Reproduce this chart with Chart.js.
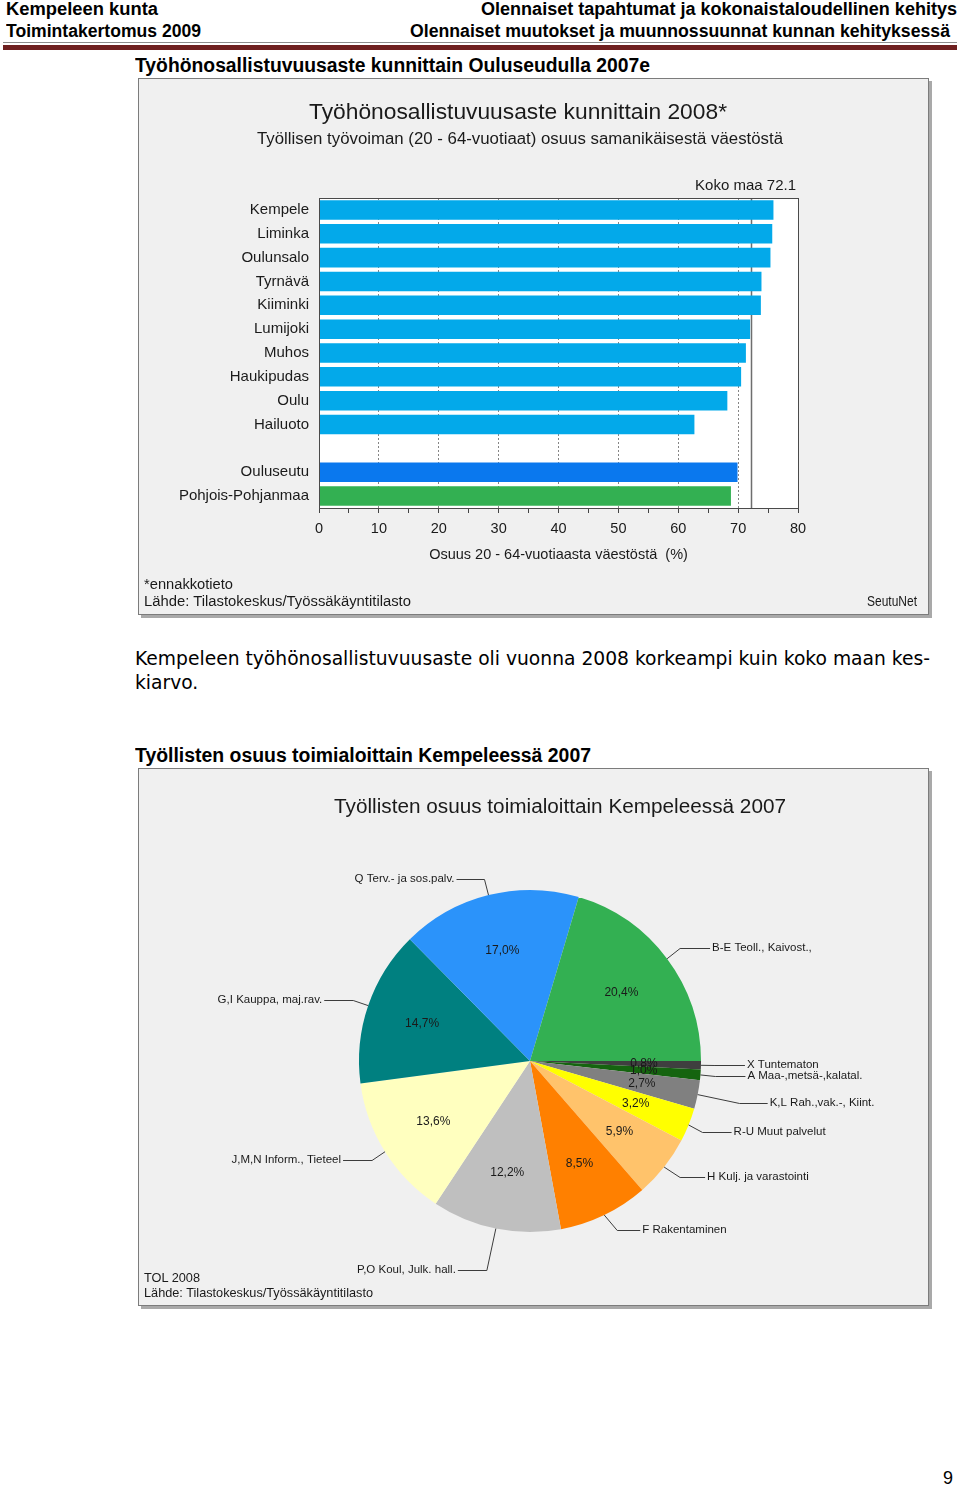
<!DOCTYPE html>
<html>
<head>
<meta charset="utf-8">
<script src="https://cdn.jsdelivr.net/npm/chart.js@4"></script>
<style>
body { margin: 0; background: #fff; }
#page { position: relative; width: 960px; height: 1488px; overflow: hidden; font-family: "Liberation Sans", Arial, sans-serif; color: #000; }
.t { position: absolute; white-space: pre; line-height: 20px; height: 20px; transform-origin: 0 50%; }
.hdr { font-weight: bold; font-size: 18px; }
.sec { font-weight: bold; font-size: 20px; }
.par { font-family: "DejaVu Sans", sans-serif; font-size: 19px; }
.in { color: #1a1a1a; }
.box { position: absolute; left: 138px; width: 791px; box-sizing: border-box; background: #f0f0f0; border: 1px solid #7c7c7c; box-shadow: 3px 3px 0 #a9a9a9; }
.box canvas { position: absolute; left: 0; top: 0; }
#rule1 { position: absolute; left: 3px; width: 954px; top: 42px; height: 1px; background: #8c8c8c; }
#rule2 { position: absolute; left: 3px; width: 954px; top: 45px; height: 5px; background: #6e1f1f; }
</style>
</head>
<body>
<div id="page">
  <div class="t hdr" data-x="6" data-y="9" data-w="152">Kempeleen kunta</div>
  <div class="t hdr" data-x="6" data-y="31" data-w="195">Toimintakertomus 2009</div>
  <div class="t hdr" data-x="481" data-y="9" data-w="476">Olennaiset tapahtumat ja kokonaistaloudellinen kehitys</div>
  <div class="t hdr" data-x="410" data-y="31" data-w="540">Olennaiset muutokset ja muunnossuunnat kunnan kehityksessä</div>
  <div id="rule1"></div><div id="rule2"></div>

  <div class="t sec" data-x="135" data-y="65" data-w="515">Työhönosallistuvuusaste kunnittain Ouluseudulla 2007e</div>

  <div class="box" style="top:78px;height:537px;">
    <canvas id="barChart" width="789" height="535"></canvas>
  </div>
  <div class="t in" style="font-size:22px;" data-x="309" data-y="112" data-w="418">Työhönosallistuvuusaste kunnittain 2008*</div>
  <div class="t in" style="font-size:16px;" data-x="257" data-y="139" data-w="526">Työllisen työvoiman (20 - 64-vuotiaat) osuus samanikäisestä väestöstä</div>
  <div class="t in" style="font-size:14px;" data-x="144" data-y="584" data-w="89">*ennakkotieto</div>
  <div class="t in" style="font-size:14px;" data-x="144" data-y="601" data-w="267">Lähde: Tilastokeskus/Työssäkäyntitilasto</div>
  <div class="t in" style="font-size:14px;" data-x="867" data-y="601" data-w="50">SeutuNet</div>

  <div class="t par" id="par1" data-x="135" data-y="658" data-w="795">Kempeleen työhönosallistuvuusaste oli vuonna 2008 korkeampi kuin koko maan kes-</div>
  <div class="t par" id="par2" data-x="135" data-y="682">kiarvo.</div>

  <div class="t sec" data-x="135" data-y="755" data-w="456">Työllisten osuus toimialoittain Kempeleessä 2007</div>

  <div class="box" style="top:768px;height:538px;">
    <canvas id="pieChart" width="789" height="536"></canvas>
  </div>
  <div class="t in" style="font-size:20px;" data-x="334" data-y="806" data-w="452">Työllisten osuus toimialoittain Kempeleessä 2007</div>
  <div class="t in" style="font-size:13px;" data-x="144" data-y="1278" data-w="56">TOL 2008</div>
  <div class="t in" style="font-size:13px;" data-x="144" data-y="1293" data-w="229">Lähde: Tilastokeskus/Työssäkäyntitilasto</div>

  <div class="t" style="font-size:18px;" data-x="943" data-y="1478" data-w="10">9</div>
</div>
<script>
// Työhönosallistuvuusaste 2008 (%)
const municipalities = ['Kempele', 'Liminka', 'Oulunsalo', 'Tyrnävä', 'Kiiminki', 'Lumijoki', 'Muhos', 'Haukipudas', 'Oulu', 'Hailuoto', '', 'Ouluseutu', 'Pohjois-Pohjanmaa'];
const participationRate = [75.9, 75.7, 75.4, 73.9, 73.8, 72.0, 71.3, 70.5, 68.2, 62.7, null, 69.9, 68.8];
const kokoMaa = 72.1;
const rateTicks = [0, 10, 20, 30, 40, 50, 60, 70, 80];

// Työllisten osuus toimialoittain 2007 (%)
const industries = ['X Tuntematon', 'A Maa-,metsä-,kalatal.', 'K,L Rah.,vak.-, Kiint.', 'R-U Muut palvelut', 'H Kulj. ja varastointi', 'F Rakentaminen', 'P,O Koul, Julk. hall.', 'J,M,N Inform., Tieteel', 'G,I Kauppa, maj.rav.', 'Q Terv.- ja sos.palv.', 'B-E Teoll., Kaivost.,'];
const industryShare = [0.8, 1.0, 2.7, 3.2, 5.9, 8.5, 12.2, 13.6, 14.7, 17.0, 20.4];

const barColors = municipalities.map(m => m === 'Ouluseutu' ? '#0a78ee' : m === 'Pohjois-Pohjanmaa' ? '#33b052' : '#03a9ea');
const pieColors = ['#3f3f3f', '#15640f', '#808080', '#ffff00', '#ffc36b', '#ff8000', '#bfbfbf', '#ffffbf', '#008080', '#2b93fa', '#33b052'];
// where each callout bends (relative to the slice edge) and how long its flat arm is
const calloutBend = [[14, 0], [15, 1], [42, 8], [14, 7], [16, 10], [13, 15], [-9, 41], [-13, 8], [-15, -6], [-4, -16], [13, -11]];
const calloutArm = [30, 30, 28, 29, 25, 23, 29, 29, 29, 28, 30];

const FONT = '"Liberation Sans", Arial, sans-serif';

// place page texts and squeeze them to the width they have in the picture
let parScale = 1;
document.querySelectorAll('.t').forEach(el => {
    el.style.left = el.dataset.x + 'px';
    el.style.top = (el.dataset.y - 10) + 'px';
    if (el.dataset.w) {
        const s = el.dataset.w / el.getBoundingClientRect().width;
        el.style.transform = 'scaleX(' + s + ')';
        if (el.id === 'par1') parScale = s;
    }
});
document.getElementById('par2').style.transform = 'scaleX(' + parScale + ')';

const plotBackground = {
    id: 'plotBackground',
    beforeDraw(chart) {
        const { ctx, chartArea: a } = chart;
        ctx.save();
        ctx.fillStyle = '#fff';
        ctx.fillRect(a.left, a.top, a.right - a.left, a.bottom - a.top);
        ctx.restore();
    }
};

const kokoMaaLine = {
    id: 'kokoMaaLine',
    beforeDatasetsDraw(chart) {
        const { ctx, chartArea: a, scales: { x } } = chart;
        const px = Math.round(x.getPixelForValue(kokoMaa)) + 0.5;
        ctx.save();
        ctx.strokeStyle = '#6e6e6e';
        ctx.lineWidth = 1.5;
        ctx.beginPath();
        ctx.moveTo(px, a.top);
        ctx.lineTo(px, a.bottom);
        ctx.stroke();
        ctx.font = '15px ' + FONT;
        ctx.fillStyle = '#1a1a1a';
        ctx.textAlign = 'right';
        ctx.textBaseline = 'middle';
        ctx.fillText('Koko maa ' + kokoMaa, a.right - 2, a.top - 12);
        ctx.restore();
    },
    afterDraw(chart) {
        const { ctx, chartArea: a } = chart;
        ctx.save();
        ctx.strokeStyle = '#4a4a4a';
        ctx.lineWidth = 1;
        ctx.strokeRect(Math.round(a.left) + 0.5, Math.round(a.top) + 0.5, Math.round(a.right - a.left), Math.round(a.bottom - a.top));
        ctx.restore();
    }
};

new Chart(document.getElementById('barChart'), {
    type: 'bar',
    data: {
        labels: municipalities,
        datasets: [{
            data: participationRate,
            backgroundColor: barColors,
            borderWidth: 0,
            barPercentage: 0.82,
            categoryPercentage: 1
        }]
    },
    options: {
        indexAxis: 'y',
        responsive: false,
        animation: false,
        events: [],
        layout: { padding: { left: 0, top: 119, right: 130, bottom: 46 } },
        plugins: { legend: { display: false }, tooltip: { enabled: false } },
        scales: {
            x: {
                min: 0,
                max: 80,
                afterFit(scale) { scale.height = 60; },
                ticks: {
                    stepSize: 5,
                    autoSkip: false,
                    maxRotation: 0,
                    padding: 7,
                    color: '#1a1a1a',
                    font: { family: FONT, size: 14.5 },
                    callback: v => rateTicks.includes(v) ? v : ''
                },
                grid: {
                    color: ctx => (ctx.tick && ctx.tick.value % 10 === 0 && ctx.tick.value > 0 && ctx.tick.value < 80) ? '#858585' : 'rgba(0,0,0,0)',
                    tickColor: '#444',
                    tickLength: 5,
                    lineWidth: 1
                },
                border: { display: true, color: '#333', dash: [2, 2] },
                title: {
                    display: true,
                    text: 'Osuus 20 - 64-vuotiaasta väestöstä  (%)',
                    color: '#1a1a1a',
                    font: { family: FONT, size: 14.5 },
                    padding: { top: 4, bottom: 4 }
                }
            },
            y: {
                afterFit(scale) { scale.width = 180; },
                grid: { display: false, drawTicks: false },
                border: { display: false },
                ticks: {
                    padding: 10,
                    autoSkip: false,
                    color: '#1a1a1a',
                    font: { family: FONT, size: 15 }
                }
            }
        }
    },
    plugins: [plotBackground, kokoMaaLine]
});

const sliceLabels = {
    id: 'sliceLabels',
    afterDatasetsDraw(chart) {
        const { ctx } = chart;
        const arcs = chart.getDatasetMeta(0).data;
        ctx.save();
        ctx.fillStyle = '#1a1a1a';
        ctx.strokeStyle = '#3c3c3c';
        ctx.lineWidth = 1;
        arcs.forEach((arc, i) => {
            const { x, y, startAngle, endAngle, outerRadius } = arc.getProps(['x', 'y', 'startAngle', 'endAngle', 'outerRadius']);
            const mid = (startAngle + endAngle) / 2;
            const cos = Math.cos(mid), sin = Math.sin(mid);

            // percentage inside the slice
            ctx.font = '12px ' + FONT;
            ctx.textAlign = 'center';
            ctx.textBaseline = 'middle';
            const r = outerRadius * 0.667;
            ctx.fillText(industryShare[i].toFixed(1).replace('.', ',') + '%', x + cos * r, y + sin * r);

            // callout with leader line
            const ax = x + cos * outerRadius, ay = y + sin * outerRadius;
            const bx = ax + calloutBend[i][0], by = ay + calloutBend[i][1];
            const dir = cos >= 0 ? 1 : -1;
            const ex = bx + dir * calloutArm[i];
            ctx.beginPath();
            ctx.moveTo(ax, ay);
            ctx.lineTo(bx, Math.round(by) + 0.5);
            ctx.lineTo(ex, Math.round(by) + 0.5);
            ctx.stroke();
            ctx.font = '11.5px ' + FONT;
            ctx.textAlign = dir > 0 ? 'left' : 'right';
            ctx.fillText(industries[i], ex + dir * 2, by);
        });
        ctx.restore();
    }
};

new Chart(document.getElementById('pieChart'), {
    type: 'pie',
    data: {
        labels: industries,
        datasets: [{
            data: industryShare,
            backgroundColor: pieColors,
            borderWidth: 0,
            hoverOffset: 0
        }]
    },
    options: {
        responsive: false,
        animation: false,
        events: [],
        rotation: 90,
        layout: { padding: { left: 220, top: 121, right: 227, bottom: 73 } },
        plugins: { legend: { display: false }, tooltip: { enabled: false } }
    },
    plugins: [sliceLabels]
});
</script>
</body>
</html>
